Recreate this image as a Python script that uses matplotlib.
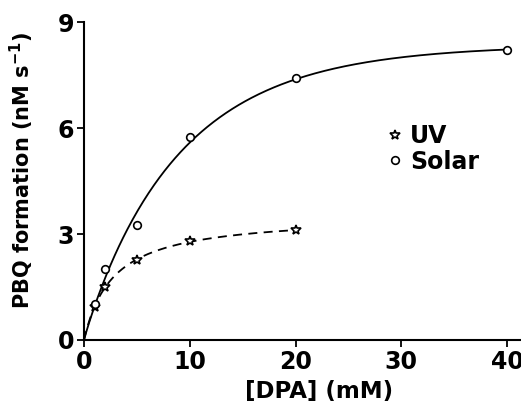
import numpy as np
import matplotlib.pyplot as plt

plt.rcParams['font.family'] = ['DejaVu Sans']
plt.rcParams['font.weight'] = 'bold'
plt.rcParams['mathtext.default'] = 'bf'

# [DPA] concentrations (mM) and PBQ formation rates (nM/s)
dpa_uv = np.array([1, 2, 5, 10, 20])
rate_uv = np.array([0.93, 1.5, 2.27, 2.8, 3.1])
dpa_solar = np.array([1, 2, 5, 10, 20, 40])
rate_solar = np.array([1.02, 2.0, 3.26, 5.75, 7.42, 8.2])

xticks = [0, 10, 20, 30, 40]
yticks = [0, 3, 6, 9]


def saturation(x, vmax, k, n):
    return vmax * (1 - np.exp(-(x / k) ** n))


def michaelis(x, vmax, k):
    return vmax * x / (k + x)


def grid_fit(func, x, y, grids):
    # brute-force least squares over a parameter grid
    mesh = np.meshgrid(*grids, indexing='ij')
    params = [m.ravel() for m in mesh]
    pred = func(x[:, None], *[p[None, :] for p in params])
    err = np.sum((pred - y[:, None]) ** 2, axis=0)
    i = np.argmin(err)
    return [p[i] for p in params]


p_solar = grid_fit(saturation, dpa_solar, rate_solar,
                   [np.linspace(6, 11, 101), np.linspace(2, 20, 181),
                    np.linspace(0.6, 2.0, 71)])
p_uv = grid_fit(michaelis, dpa_uv, rate_uv,
                [np.linspace(2, 5, 301), np.linspace(0.5, 10, 191)])

fig = plt.figure(figsize=(5.21, 4.05), dpi=100)
ax = fig.add_axes([0.1612, 0.1605, 0.8426, 0.785])

xs = np.linspace(0, dpa_solar.max(), 400)
xu = np.linspace(0, dpa_uv.max(), 200)
ax.plot(xs, saturation(xs, *p_solar), color='black', lw=1.3)
ax.plot(xu, michaelis(xu, *p_uv), color='black', lw=1.3, ls=(0, (5, 3.5)))

ax.plot(dpa_uv, rate_uv, ls='none', marker='*', ms=7, mfc='white',
        mec='black', mew=1.2, label='UV')
ax.plot(dpa_solar, rate_solar, ls='none', marker='o', ms=5.5, mfc='white',
        mec='black', mew=1.2, label='Solar')

ax.set_xlim(0, 41.5)
ax.set_ylim(0, 9)
ax.set_xticks(xticks)
ax.set_yticks(yticks)
ax.tick_params(labelsize=17, width=1.3, length=5, pad=2)
for s in ['top', 'right']:
    ax.spines[s].set_visible(False)
for s in ['left', 'bottom']:
    ax.spines[s].set_linewidth(1.5)

ax.set_xlabel('[DPA] (mM)', fontsize=16.5, fontweight='bold')
ax.xaxis.set_label_coords(0.535, -0.125)
ax.set_ylabel('PBQ formation (nM s$^{-1}$)', fontsize=15,
              fontweight='bold')
ax.yaxis.set_label_coords(-0.11, 0.535)

ax.legend(loc='upper left', bbox_to_anchor=(0.665, 0.715), frameon=False,
          fontsize=17, handlelength=0.6, handletextpad=0.35,
          labelspacing=0.05, borderpad=0)

fig.savefig('out.png', dpi=100)
